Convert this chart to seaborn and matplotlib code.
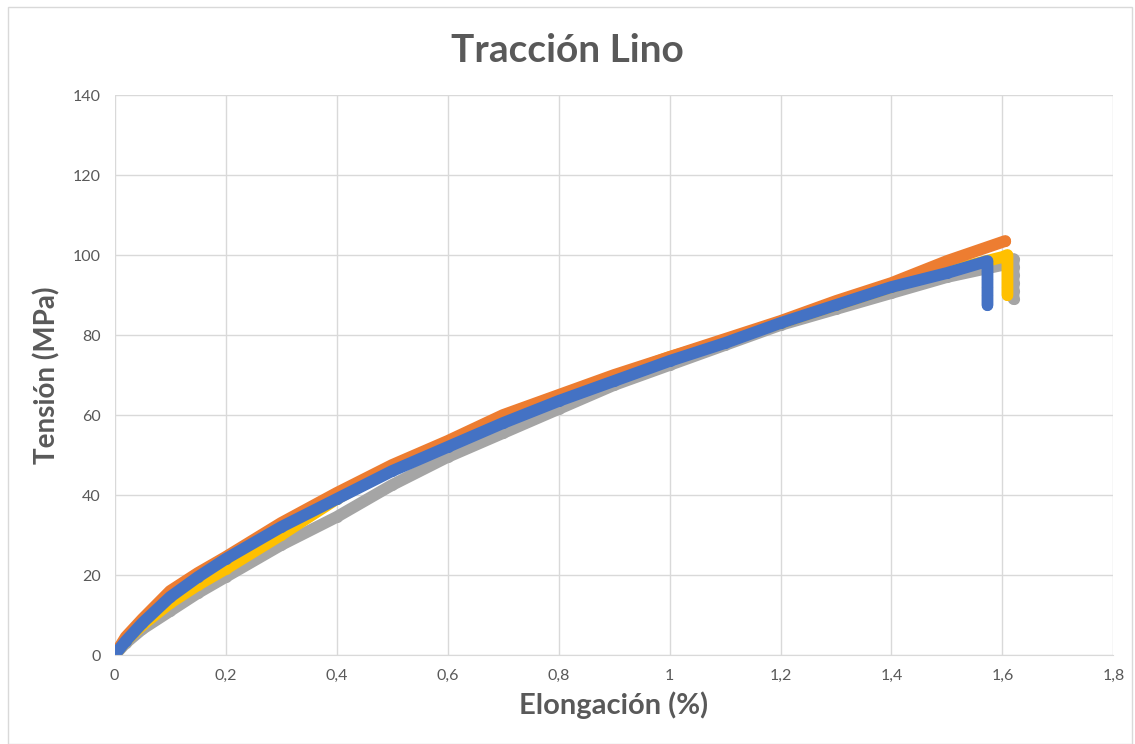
import matplotlib
matplotlib.use('Agg')
import matplotlib.pyplot as plt
import matplotlib.patches as patches
import pandas as pd
import seaborn as sns

# Datos (Elongación %, Tensión MPa)
gris_x = [0, 0.02, 0.05, 0.1, 0.15, 0.2, 0.3, 0.4, 0.5, 0.6, 0.7, 0.8, 0.9, 1.0, 1.1, 1.2, 1.3, 1.4, 1.5, 1.6, 1.62, 1.62, 1.62, 1.62, 1.62, 1.62]
gris_y = [0, 3, 6.5, 11, 15.5, 19.5, 27.5, 34.5, 42.5, 49.5, 55.5, 61.5, 67.5, 72.5, 77.5, 82.5, 86.5, 90.5, 94.5, 97.5, 99, 97, 95, 93, 91, 89]

amarillo_x = [0, 0.02, 0.05, 0.1, 0.15, 0.2, 0.3, 0.4, 0.5, 0.6, 0.7, 0.8, 0.9, 1.0, 1.1, 1.2, 1.3, 1.4, 1.5, 1.6, 1.609, 1.609, 1.609, 1.609, 1.609, 1.609]
amarillo_y = [0, 3.5, 7.5, 13, 17.5, 21.5, 30, 39, 46.5, 53, 59, 64.5, 69.5, 74.5, 78.5, 83, 87.5, 92, 96, 99.5, 100, 98, 96, 94, 92, 90]

naranja_x = [0, 0.02, 0.05, 0.1, 0.15, 0.2, 0.3, 0.4, 0.5, 0.6, 0.7, 0.8, 0.9, 1.0, 1.1, 1.2, 1.3, 1.4, 1.5, 1.605]
naranja_y = [0, 4.5, 9, 16, 20.5, 24.5, 33, 40.5, 47.5, 53.5, 60, 65, 70, 74.5, 79, 83.5, 88.5, 93, 98.5, 103.5]

azul_x = [0, 0.02, 0.05, 0.1, 0.15, 0.2, 0.3, 0.4, 0.5, 0.6, 0.7, 0.8, 0.9, 1.0, 1.1, 1.2, 1.3, 1.4, 1.5, 1.573, 1.573, 1.573, 1.573, 1.573, 1.573]
azul_y = [0, 3.5, 8, 14.5, 19.5, 24, 32, 39, 46, 52, 58, 63.5, 68.5, 73.5, 78, 83, 87.5, 92, 95.5, 98.5, 96, 94, 92, 90, 87.5]

xticks = [0, 0.2, 0.4, 0.6, 0.8, 1, 1.2, 1.4, 1.6, 1.8]
xtick_labels = ['0', '0,2', '0,4', '0,6', '0,8', '1', '1,2', '1,4', '1,6', '1,8']
yticks = [0, 20, 40, 60, 80, 100, 120, 140]

series = [
    ('gris', gris_x, gris_y, '#A5A5A5'),
    ('amarillo', amarillo_x, amarillo_y, '#FFC000'),
    ('naranja', naranja_x, naranja_y, '#ED7D31'),
    ('azul', azul_x, azul_y, '#4472C4'),
]

sns.set_style('white')
plt.rcParams['font.family'] = ['Lato', 'DejaVu Sans']

fig = plt.figure(figsize=(11.35, 7.44), dpi=100)
ax = fig.add_axes([0.101, 0.1196, 0.880, 0.7527])

for nombre, xs, ys, color in series:
    df = pd.DataFrame({'x': xs, 'y': ys})
    sns.lineplot(data=df, x='x', y='y', ax=ax, color=color, linewidth=8.5,
                 sort=False, estimator=None, solid_capstyle='round',
                 solid_joinstyle='round', marker='o', markersize=8,
                 markeredgewidth=0)

ax.set_xlim(0, 1.8)
ax.set_ylim(0, 140)
ax.set_xticks(xticks)
ax.set_xticklabels(xtick_labels)
ax.set_yticks(yticks)
ax.grid(True, color='#D9D9D9', linewidth=1)
ax.set_axisbelow(True)
for lado in ['top', 'right', 'left']:
    ax.spines[lado].set_visible(False)
ax.spines['bottom'].set_color('#D9D9D9')
ax.tick_params(axis='both', length=0, labelsize=11.5, colors='#595959', pad=10)

ax.set_xlabel('Elongación (%)', fontsize=21, fontweight='bold', color='#595959', labelpad=6)
ax.set_ylabel('Tensión (MPa)', fontsize=20, fontweight='bold', color='#595959', labelpad=9)
fig.text(0.5, 0.932, 'Tracción Lino', ha='center', va='center', fontsize=28,
         fontweight='bold', color='#595959')

# Marco exterior
fig.patches.append(patches.Rectangle((0.007, 0.0), 0.99, 0.99, transform=fig.transFigure,
                                     fill=False, edgecolor='#D9D9D9', linewidth=1))

fig.savefig('out.png', dpi=100)
